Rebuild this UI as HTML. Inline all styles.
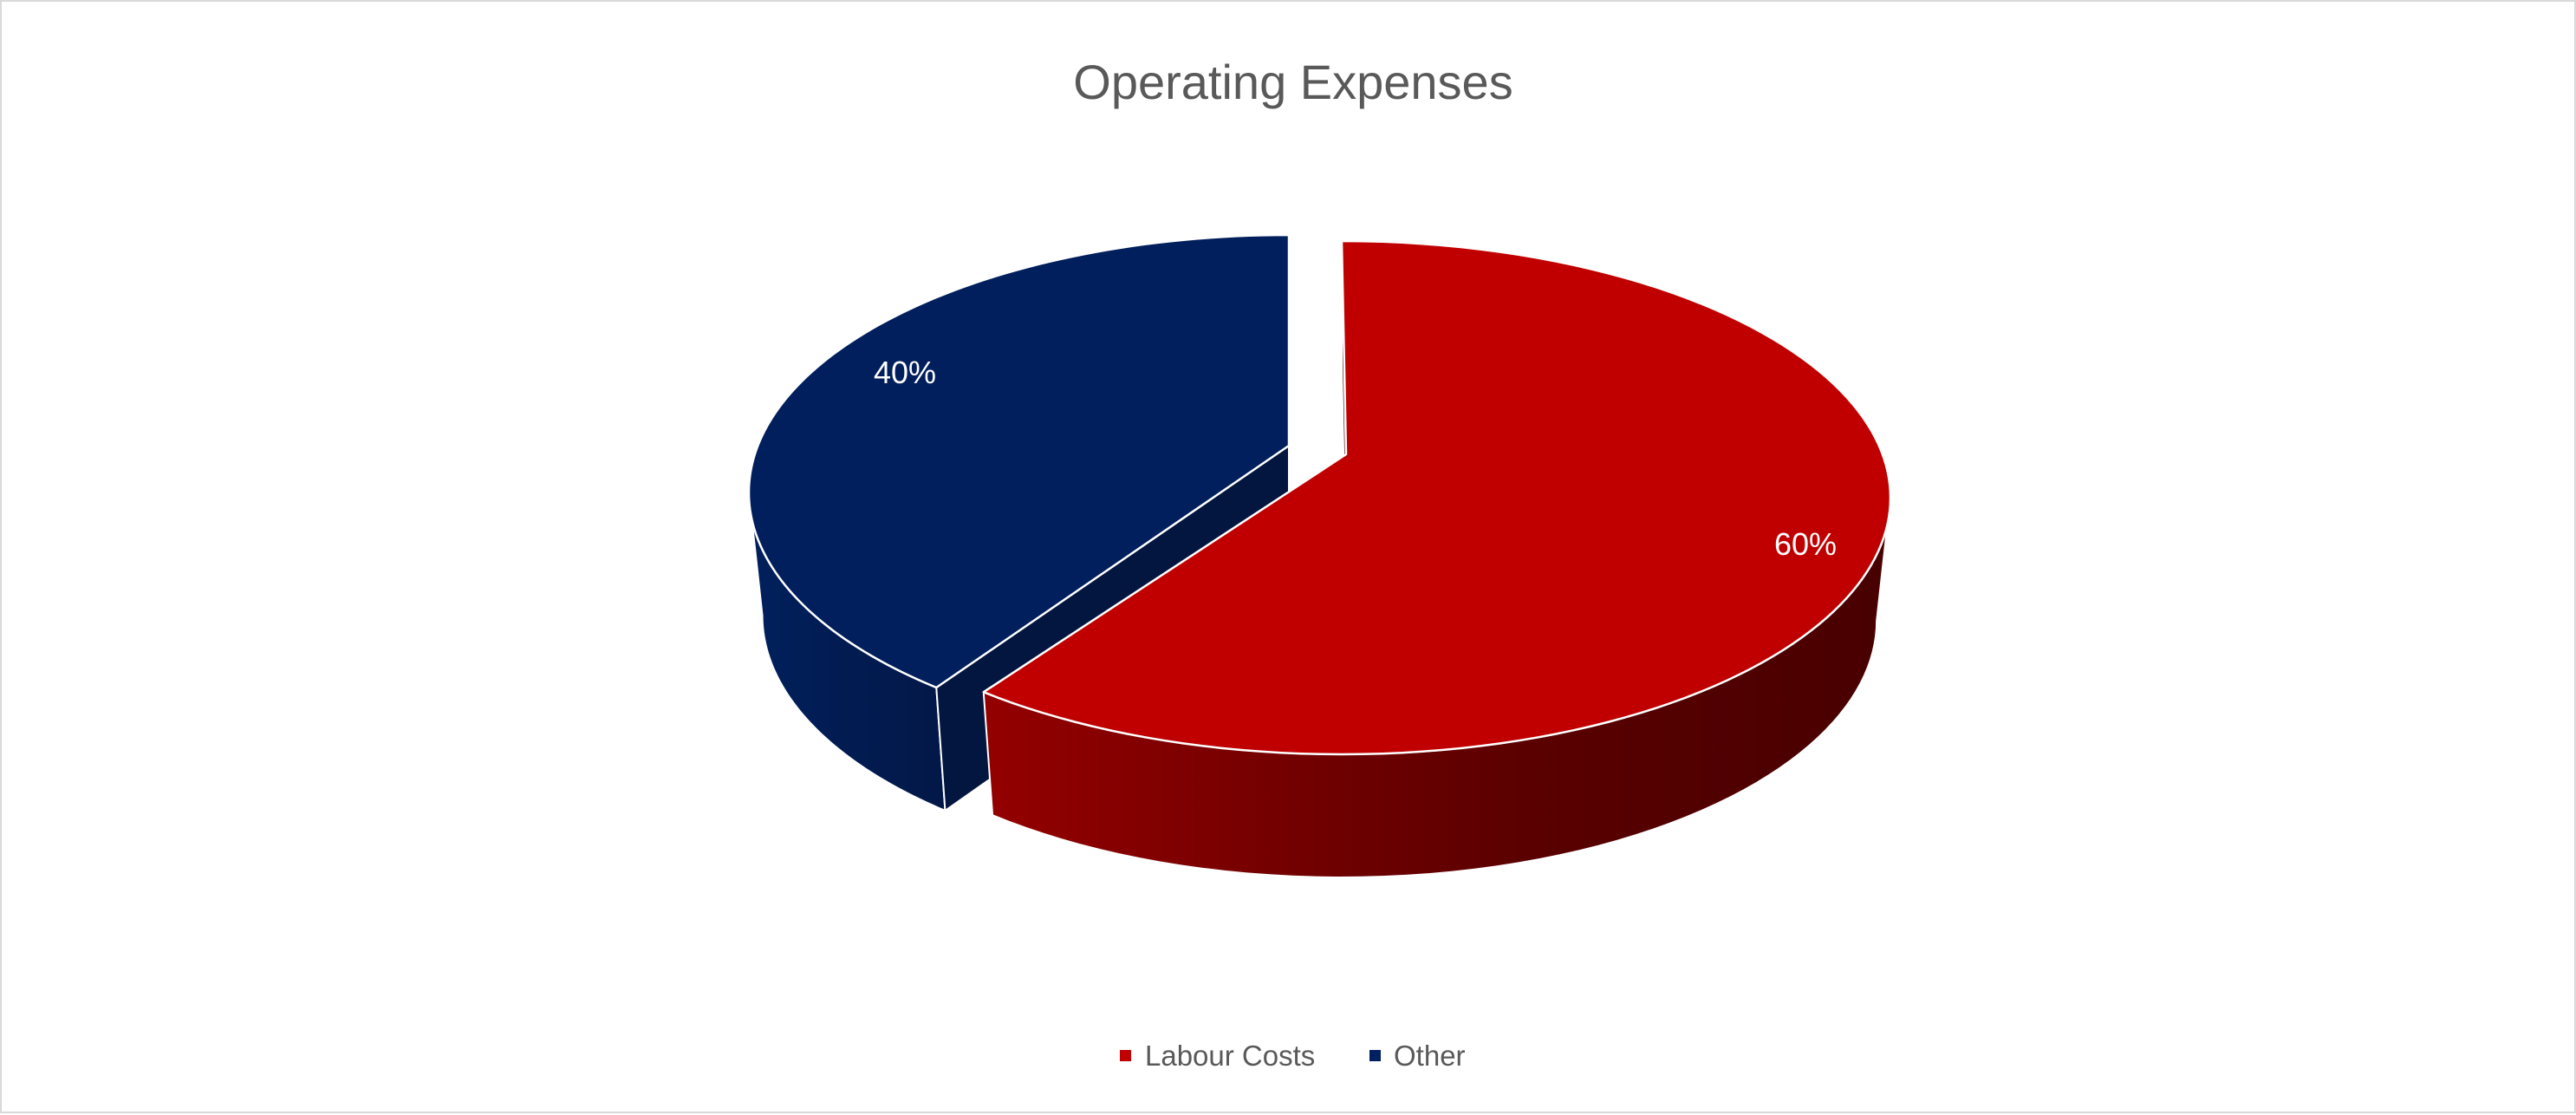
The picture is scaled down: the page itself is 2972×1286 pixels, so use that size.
<!DOCTYPE html>
<html><head><meta charset="utf-8"><style>
html,body{margin:0;padding:0;background:#fff}
#wrap{position:relative;width:2972px;height:1284px;box-sizing:border-box;border:2px solid #d9d9d9;background:#fff}
svg{position:absolute;left:0;top:0}
</style></head><body>
<div id="wrap">
<svg id="chart" width="2972" height="1284">
<defs>
<linearGradient id="redWall" x1="1137" y1="0" x2="2179" y2="0" gradientUnits="userSpaceOnUse">
<stop offset="0" stop-color="#930000"/><stop offset="0.6" stop-color="#5a0000"/><stop offset="1" stop-color="#480000"/></linearGradient>
<linearGradient id="blueWall" x1="862" y1="0" x2="1080" y2="0" gradientUnits="userSpaceOnUse">
<stop offset="0" stop-color="#01205c"/><stop offset="1" stop-color="#021848"/></linearGradient>
</defs>
<text x="1490" y="112" text-anchor="middle" font-family="Liberation Sans, sans-serif" font-size="56" fill="#595959">Operating Expenses</text>
<g id="slices"></g>
<g>
<rect x="1290" y="1209" width="13" height="13" fill="#c00000"/>
<text x="1319" y="1227" font-family="Liberation Sans, sans-serif" font-size="33" fill="#595959">Labour Costs</text>
<rect x="1578" y="1209" width="13" height="13" fill="#002060"/>
<text x="1606" y="1227" font-family="Liberation Sans, sans-serif" font-size="33" fill="#595959">Other</text>
</g>
</svg>
</div>
<script>
const categories = ["Labour Costs", "Other"];
const values = [60, 40];
const labels = ["60%", "40%"];

const NS = "http://www.w3.org/2000/svg";
const g = document.getElementById("slices");
const depth = 142;
const taper = 0.975;
const geo = [
  {cx:1546, cy:572, rx:633, ry:296, ax:1551, ay:522, top:"#c00000", wall:"url(#redWall)", cut:"#4a0000", lx:2081, ly:638},
  {cx:1485, cy:566, rx:623, ry:297, ax:1485, ay:512, top:"#001f5c", wall:"url(#blueWall)", cut:"#03163f", lx:1042, ly:440}
];
const total = values.reduce((a,b)=>a+b,0);
// perspective correction: front angles appear spread out
function warp(t){ return t + 5*Math.sin(2*(t+90)*Math.PI/180); }
function pt(s, t, bottom){ const r=warp(t)*Math.PI/180; const k=bottom?taper:1; return [s.cx+s.rx*k*Math.cos(r), s.cy+s.ry*Math.sin(r)+(bottom?depth:0)]; }
function add(tag, attrs, name){
  const e=document.createElementNS(NS,tag);
  for(const k in attrs) e.setAttribute(k,attrs[k]);
  
  
  g.appendChild(e); return e;
}
let acc = 0;
const spans = values.map(v=>{ const a0=-90+360*acc/total; acc+=v; return [a0, -90+360*acc/total]; });
const order = [1,0];
order.forEach(i=>{
  const s=geo[i]; const [a0,a1]=spans[i];
  const w0=Math.max(a0,0), w1=Math.min(a1,180);
  if(w1>w0){
    let d=""; const steps=60;
    for(let k=0;k<=steps;k++){const t=w0+(w1-w0)*k/steps; const p=pt(s,t,false); d+=(k?"L":"M")+p[0]+","+p[1];}
    for(let k=steps;k>=0;k--){const t=w0+(w1-w0)*k/steps; const p=pt(s,t,true); d+="L"+p[0]+","+p[1];}
    add("path",{d:d+"Z",fill:s.wall,stroke:"#fff","stroke-width":2,"stroke-linejoin":"round"},"wall-"+categories[i].toLowerCase().replace(/ /g,'-'));
  }
  const p=pt(s,a0,false), q=pt(s,a0,true);
  const d=`M${s.ax},${s.ay}L${p[0]},${p[1]}L${q[0]},${q[1]}L${s.ax},${s.ay+depth}Z`;
  add("path",{d:d,fill:s.cut,stroke:"#fff","stroke-width":2},"cut-face-"+categories[i].toLowerCase().replace(/ /g,'-'));
});
order.forEach(i=>{
  const s=geo[i]; const [a0,a1]=spans[i];
  let d=`M${s.ax},${s.ay}`; const steps=120;
  for(let k=0;k<=steps;k++){const t=a0+(a1-a0)*k/steps; const p=pt(s,t,false); d+="L"+p[0]+","+p[1];}
  add("path",{d:d+"Z",fill:s.top,stroke:"#fff","stroke-width":2.5,"stroke-linejoin":"round"},"slice-"+categories[i].toLowerCase().replace(/ /g,'-'));
  const tx=add("text",{x:s.lx,y:s.ly,"text-anchor":"middle","font-family":"Liberation Sans, sans-serif","font-size":36,fill:"#fff"},"data-label-"+categories[i].toLowerCase().replace(/ /g,'-'));
  tx.textContent=labels[i];
});
</script>
</body></html>
